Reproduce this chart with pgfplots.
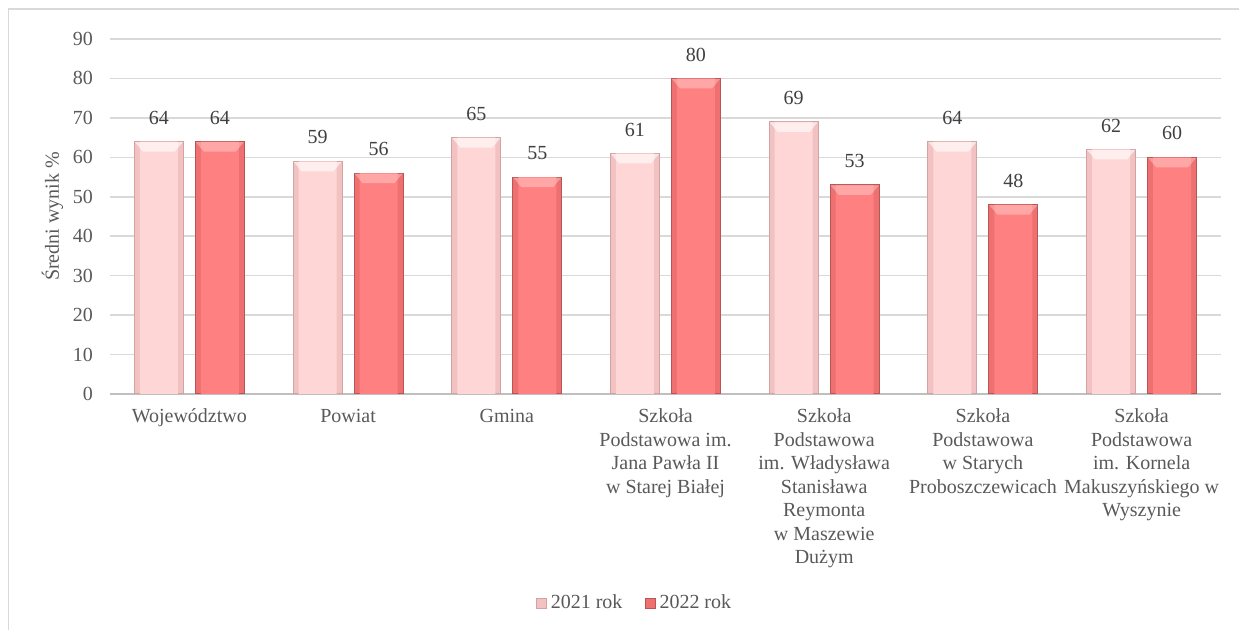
\documentclass[border=0pt]{standalone}
\usepackage{fontspec}
\setmainfont{Liberation Serif}
\usepackage{pgfplots}
\pgfplotsset{compat=1.18}
\definecolor{pinkfill}{HTML}{FFD6D6}
\definecolor{pinkside}{HTML}{F2C2C2}
\definecolor{pinkedge}{HTML}{D3A3A3}
\definecolor{redfill}{HTML}{FF8080}
\definecolor{redside}{HTML}{EE7070}
\definecolor{rededge}{HTML}{B85555}
\definecolor{gridc}{HTML}{D9D9D9}
\definecolor{axisc}{HTML}{BFBFBF}
\definecolor{txt}{HTML}{595959}
\definecolor{lbl}{HTML}{404040}
\pgfdeclareplotmark{bevL}{%
  \pgfpathmoveto{\pgfpoint{-27.25pt}{-0.25pt}}%
  \pgfpathlineto{\pgfpoint{-3.25pt}{-0.25pt}}%
  \pgfpathlineto{\pgfpoint{-7.25pt}{-5pt}}%
  \pgfpathlineto{\pgfpoint{-23.25pt}{-5pt}}%
  \pgfpathclose\pgfusepathqfill}
\pgfdeclareplotmark{bevR}{%
  \pgfpathmoveto{\pgfpoint{3.25pt}{-0.25pt}}%
  \pgfpathlineto{\pgfpoint{27.25pt}{-0.25pt}}%
  \pgfpathlineto{\pgfpoint{23.25pt}{-5pt}}%
  \pgfpathlineto{\pgfpoint{7.25pt}{-5pt}}%
  \pgfpathclose\pgfusepathqfill}
\pgfplotstableread{
x y
0 64
1 59
2 65
3 61
4 69
5 64
6 62
}\yrA
\pgfplotstableread{
x y
0 64
1 56
2 55
3 80
4 53
5 48
6 60
}\yrB
\begin{document}
\fontsize{10}{11.75}\selectfont
\begin{tikzpicture}
\path[use as bounding box] (-55pt,-118pt) rectangle (564.5pt,197pt);
\draw[gridc, line width=0.75pt] (-50.75pt,-118pt) -- (-50.75pt,192.5pt) -- (564.5pt,192.5pt);
\begin{axis}[
  scale only axis,
  width=555.5pt, height=177.5pt,
  xmin=-0.5, xmax=6.5, ymin=0, ymax=90,
  ytick={0,10,...,90},
  xtick={0,...,6},
  xticklabels={Województwo, Powiat, Gmina,
    {Szkoła\\Podstawowa im.\\Jana Pawła II\\w Starej Białej},
    {Szkoła\\Podstawowa\\im. Władysława\\Stanisława\\Reymonta\\w Maszewie\\Dużym},
    {Szkoła\\Podstawowa\\w Starych\\Proboszczewicach},
    {Szkoła\\Podstawowa\\im. Kornela\\Makuszyńskiego w\\Wyszynie}},
  axis x line*=bottom, axis y line*=left,
  y axis line style={draw=none},
  x axis line style={draw=axisc, line width=1pt, -},
  major tick length=0pt,
  ymajorgrids, grid style={gridc, line width=0.75pt},
  /pgf/number format/assume math mode=true,
  tick label style={font=\fontsize{10}{11.75}\selectfont, text=txt},
  xticklabel style={align=center, yshift=-4pt},
  yticklabel style={xshift=-5pt},
  ylabel={Średni wynik \%},
  ylabel style={at={(axis description cs:0,0.5)}, anchor=center, yshift=28.75pt, font=\fontsize{10}{11.75}\selectfont, text=txt},
  nodes near coords style={font=\fontsize{10}{11.75}\selectfont, text=lbl, yshift=5pt},
  legend style={at={(0.473,-0.589)}, anchor=center, draw=none, legend columns=2,
    font=\fontsize{10}{11.75}\selectfont, text=txt,
    /tikz/every even column/.append style={column sep=9pt}},
  legend image code/.code={\draw[#1] (0pt,-2.5pt) rectangle (5pt,2.5pt);},
]
% outer bars (edges)
\addplot[ybar, bar width=24.5pt, bar shift=-15.25pt, fill=pinkside, draw=pinkedge, line width=0.5pt, nodes near coords, every node near coord/.append style={xshift=-15.25pt}] table[x=x,y=y] {\yrA};
\addplot[ybar, bar width=24.5pt, bar shift=15.25pt, fill=redside, draw=rededge, line width=0.5pt, nodes near coords, every node near coord/.append style={xshift=15.25pt}] table[x=x,y=y] {\yrB};
\legend{2021 rok, 2022 rok}
% inner faces
\addplot[ybar, bar width=19pt, bar shift=-15.25pt, fill=pinkfill, draw=none, forget plot] table[x=x,y=y] {\yrA};
\addplot[ybar, bar width=19pt, bar shift=15.25pt, fill=redfill, draw=none, forget plot] table[x=x,y=y] {\yrB};
% top bevels
\addplot[only marks, mark=bevL, mark options={fill=white, fill opacity=0.6, draw=none}, forget plot] table[x=x,y=y] {\yrA};
\addplot[only marks, mark=bevR, mark options={fill=white, fill opacity=0.3, draw=none}, forget plot] table[x=x,y=y] {\yrB};
\end{axis}
\end{tikzpicture}
\end{document}
